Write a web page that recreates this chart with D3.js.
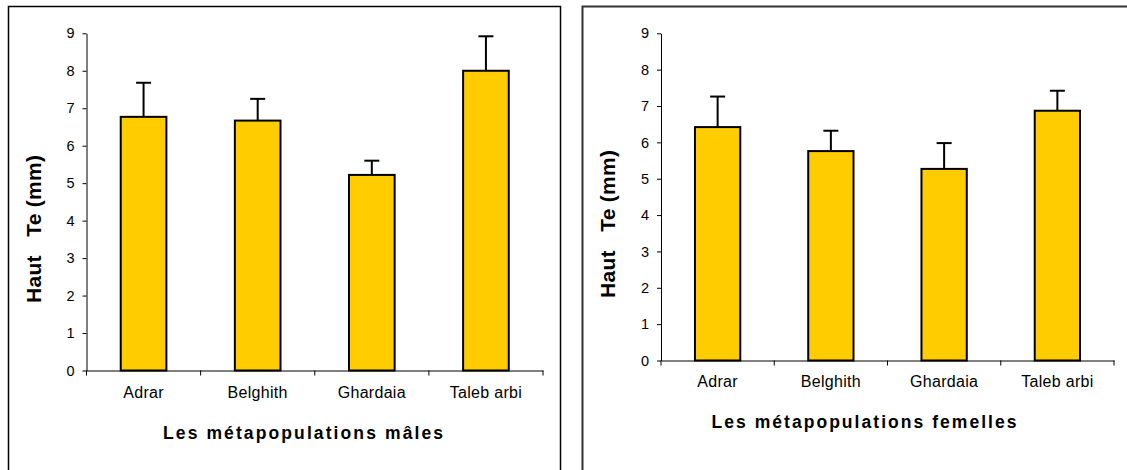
<!DOCTYPE html>
<html>
<head>
<meta charset="utf-8">
<script src="https://cdn.jsdelivr.net/npm/d3@7"></script>
<style>
  body { margin: 0; background: #fff; }
  svg { display: block; font-family: "Liberation Sans", Arial, sans-serif; }
</style>
</head>
<body>
<svg id="chart" width="1127" height="470"></svg>
<script>
const categories = ['Adrar', 'Belghith', 'Ghardaia', 'Taleb arbi'];
const maleMeans = [6.77, 6.67, 5.22, 8.00];
const maleErrors = [0.91, 0.58, 0.38, 0.92];
const femaleMeans = [6.42, 5.76, 5.27, 6.87];
const femaleErrors = [0.84, 0.56, 0.71, 0.55];
const yTicks = [0, 1, 2, 3, 4, 5, 6, 7, 8, 9];

class BarChart {

    constructor(config, data) {
        this.config = config;
        this.data = data;
        this.init();
    }

    init() {
        let self = this;
        let c = self.config;

        self.g = d3.select(c.parent).append('g');

        // outer frame (bottom edge runs off the picture)
        self.g.append('rect')
            .attr('x', c.frame.x)
            .attr('y', c.frame.y)
            .attr('width', c.frame.w)
            .attr('height', c.frame.h)
            .attr('fill', 'none')
            .attr('stroke', c.frame.color)
            .attr('stroke-width', c.frame.sw);

        self.xscale = d3.scaleBand()
            .domain(categories)
            .range([c.left, c.right])
            .paddingInner(0)
            .paddingOuter(0);

        self.yscale = d3.scaleLinear()
            .domain([0, 9])
            .range([c.bottom, c.top]);

        let yaxis = d3.axisLeft(self.yscale)
            .tickValues(yTicks)
            .tickSize(4)
            .tickPadding(8)
            .tickSizeOuter(0);

        self.g.append('g')
            .attr('transform', `translate(${c.left}, 0)`)
            .call(yaxis)
            .call(g => g.selectAll('text').attr('font-size', 14.5).attr('fill', '#000').attr('font-family', null))
            .call(g => g.selectAll('line,path').attr('stroke', '#000'));

        let xaxis = d3.axisBottom(self.xscale)
            .tickSize(0)
            .tickPadding(c.catPad)
            .tickSizeOuter(0);

        let step = self.xscale.step();
        let xg = self.g.append('g')
            .attr('transform', `translate(0, ${c.bottom})`)
            .call(xaxis);
        xg.selectAll('path').attr('stroke', '#000');
        xg.selectAll('text')
            .attr('font-size', 16)
            .attr('font-family', null)
            .attr('letter-spacing', 0.3)
            .attr('fill', '#000');
        // ticks sit at the category boundaries
        xg.selectAll('.tick line')
            .attr('x1', step / 2).attr('x2', step / 2)
            .attr('y2', 5).attr('stroke', '#000');
        xg.append('line')
            .attr('x1', c.left).attr('x2', c.left)
            .attr('y1', 0).attr('y2', 5)
            .attr('stroke', '#000');

        let bw = step * 0.4;
        let bars = self.g.append('g');
        bars.selectAll('rect')
            .data(self.data)
            .join('rect')
            .attr('x', d => self.xscale(d.label) + (step - bw) / 2)
            .attr('y', d => self.yscale(d.mean))
            .attr('width', bw)
            .attr('height', d => self.yscale(0) - self.yscale(d.mean))
            .attr('fill', '#FFCC00')
            .attr('stroke', '#000')
            .attr('stroke-width', 2);

        let err = self.g.append('g')
            .attr('stroke', '#000')
            .attr('stroke-width', 2);
        err.selectAll('line.v')
            .data(self.data)
            .join('line')
            .attr('class', 'v')
            .attr('x1', d => self.xscale(d.label) + step / 2)
            .attr('x2', d => self.xscale(d.label) + step / 2)
            .attr('y1', d => self.yscale(d.mean))
            .attr('y2', d => self.yscale(d.mean + d.err));
        err.selectAll('line.cap')
            .data(self.data)
            .join('line')
            .attr('class', 'cap')
            .attr('x1', d => self.xscale(d.label) + step / 2 - 7.5)
            .attr('x2', d => self.xscale(d.label) + step / 2 + 7.5)
            .attr('y1', d => self.yscale(d.mean + d.err))
            .attr('y2', d => self.yscale(d.mean + d.err));

        self.g.append('text')
            .attr('transform', `translate(${c.ylabel.x}, ${c.ylabel.y}) rotate(-90)`)
            .attr('text-anchor', 'middle')
            .attr('dominant-baseline', 'central')
            .attr('font-size', 21)
            .attr('font-weight', 'bold')
            .attr('textLength', c.ylabel.len)
            .attr('lengthAdjust', 'spacing')
            .style('white-space', 'pre')
            .text('Haut   Te (mm)');

        self.g.append('text')
            .attr('x', c.xlabel.x)
            .attr('y', c.xlabel.y)
            .attr('text-anchor', 'middle')
            .attr('font-size', 17.5)
            .attr('font-weight', 'bold')
            .attr('textLength', c.xlabel.len)
            .attr('lengthAdjust', 'spacing')
            .text(c.xlabel.text);
    }
}

const svg = '#chart';

new BarChart({
    parent: svg,
    frame: { x: 8.5, y: 6.5, w: 552, h: 500, color: '#000', sw: 1.5 },
    left: 86.5, right: 543, top: 33.3, bottom: 370.5,
    catPad: 16,
    ylabel: { x: 33, y: 229, len: 148 },
    xlabel: { x: 303, y: 439, len: 280, text: 'Les métapopulations mâles' }
}, categories.map((k, i) => ({ label: k, mean: maleMeans[i], err: maleErrors[i] })));

new BarChart({
    parent: svg,
    frame: { x: 582.5, y: 6.5, w: 600, h: 500, color: '#333', sw: 2 },
    left: 661, right: 1114, top: 33.3, bottom: 360.5,
    catPad: 15.5,
    ylabel: { x: 607, y: 224, len: 148 },
    xlabel: { x: 864, y: 428, len: 305, text: 'Les métapopulations femelles' }
}, categories.map((k, i) => ({ label: k, mean: femaleMeans[i], err: femaleErrors[i] })));
</script>
</body>
</html>
